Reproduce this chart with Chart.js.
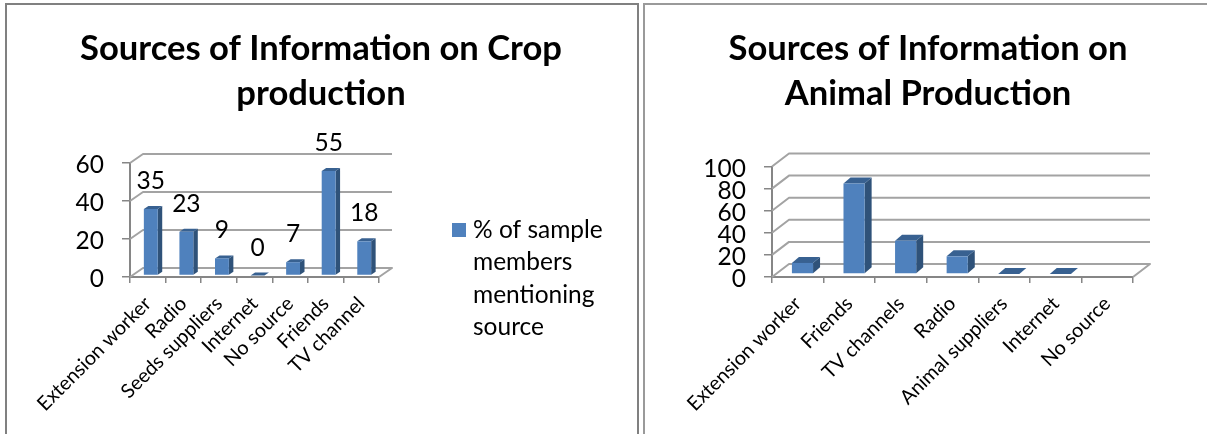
<!DOCTYPE html>
<html><head><meta charset="utf-8">
<style>
html,body{margin:0;padding:0;background:#fff;width:1207px;height:434px;overflow:hidden}
.frame{position:absolute;top:3px;height:440px;border:2px solid #808080;box-sizing:border-box}
canvas{position:absolute}
</style>
<script src="https://cdn.jsdelivr.net/npm/chart.js@4"></script>
</head><body>
<div class="frame" style="left:5px;width:634px"></div>
<div class="frame" style="left:643px;width:564px;border-color:#9a9a9a;border-right:none"></div>
<div style="position:absolute;left:7px;top:5px;width:628px;height:429px"><canvas id="crop"></canvas></div>
<div style="position:absolute;left:645px;top:5px;width:566px;height:429px"><canvas id="animal"></canvas></div>
<script>
const cropTitle = ["Sources of Information on Crop", "production"];
const cropCategories = ["Extension worker","Radio","Seeds suppliers","Internet","No source","Friends","TV channel"];
const cropValues = [35,23,9,0,7,55,18];
const cropTicks = [0,20,40,60];
const seriesLabel = "% of sample members mentioning source";

const animalTitle = ["Sources of Information on", "Animal Production"];
const animalCategories = ["Extension worker","Friends","TV channels","Radio","Animal suppliers","Internet","No source"];
const animalValues = [10,82,30,16,0,0,null];
const animalTicks = [0,20,40,60,80,100];

const FONT = "Lato";
const GRID = "#a3a3a3", AXIS = "#868686", FRONT = "#4f81bd", TOP = "#386191", SIDE = "#2f5279";

const depthPlugin = {
  id: "depth",
  install(chart, args, o) {
    const w = chart.config.options.plugins.depth.reserveRight;
    Chart.layouts.addBox(chart, {
      position: "right", weight: 100, fullSize: false, z: 0, width: w, height: 0, options: {},
      isHorizontal() { return false; },
      update(maxW, maxH) { this.width = w; this.height = maxH; },
      draw() {}
    });
  },
  beforeDatasetsDraw(chart, args, o) {
    const {ctx, chartArea: a, scales: {x, y}} = chart;
    ctx.save();
    ctx.strokeStyle = GRID; ctx.lineWidth = 2; ctx.lineJoin = "round";
    y.ticks.forEach((t, i) => {
      const py = y.getPixelForTick(i);
      ctx.beginPath();
      ctx.moveTo(a.left, py);
      ctx.lineTo(a.left + o.wallX, py - o.wallY);
      ctx.lineTo(a.right + o.wallX, py - o.wallY);
      if (i === 0) ctx.lineTo(a.right, py);
      ctx.stroke();
    });
    ctx.restore();
    ctx.save();
    ctx.translate(o.shiftX, o.shiftY);
    chart.getDatasetMeta(0).data.forEach((b, i) => {
      if (chart.data.datasets[0].data[i] === null) return;
      const l = b.x - b.width / 2, r = b.x + b.width / 2, t = b.y, bm = b.base;
      ctx.fillStyle = SIDE;
      ctx.beginPath();
      ctx.moveTo(r, t); ctx.lineTo(r + o.barX, t - o.barY);
      ctx.lineTo(r + o.barX, bm - o.barY); ctx.lineTo(r, bm); ctx.closePath(); ctx.fill();
      ctx.fillStyle = TOP;
      ctx.beginPath();
      ctx.moveTo(l, t); ctx.lineTo(l + o.barX, t - o.barY);
      ctx.lineTo(r + o.barX, t - o.barY); ctx.lineTo(r, t); ctx.closePath(); ctx.fill();
    });
  },
  afterDatasetsDraw(chart, args, o) {
    const {ctx} = chart;
    ctx.restore();
    if (!o.showValues) return;
    ctx.save();
    ctx.font = "24.5px " + FONT; ctx.fillStyle = "#000";
    ctx.textAlign = "center"; ctx.textBaseline = "alphabetic";
    chart.getDatasetMeta(0).data.forEach((b, i) => {
      ctx.fillText(String(chart.data.datasets[0].data[i]), b.x + o.shiftX, b.y + o.shiftY - 20);
    });
    ctx.restore();
  },
  afterDraw(chart, args, o) {
    if (!o.legend) return;
    const {ctx} = chart, ds = chart.data.datasets[0];
    ctx.save();
    ctx.font = "24.5px " + FONT; ctx.textBaseline = "alphabetic"; ctx.fillStyle = "#000";
    const lines = []; let cur = "";
    ds.label.split(" ").forEach(w => {
      const n = cur ? cur + " " + w : w;
      if (ctx.measureText(n).width > o.legend.wrap) { lines.push(cur); cur = w; } else cur = n;
    });
    lines.push(cur);
    lines.forEach((s, i) => ctx.fillText(s, o.legend.x + 21, o.legend.y + i * 32.3));
    ctx.fillStyle = FRONT;
    ctx.fillRect(o.legend.x, o.legend.y - 15, 14, 14);
    ctx.restore();
  }
};

function makeChart(id, title, cats, vals, ticks, opt) {
  return new Chart(document.getElementById(id), {
    type: "bar",
    plugins: [depthPlugin],
    data: {labels: cats, datasets: [{label: seriesLabel, data: vals, backgroundColor: FRONT,
      barPercentage: opt.barPct, categoryPercentage: 1, clip: false}]},
    options: {
      responsive: true, maintainAspectRatio: false, animation: false,
      layout: {padding: 0},
      plugins: {
        legend: {display: false}, tooltip: {enabled: false},
        title: {display: true, text: title, color: "#000", align: "center", fullSize: true,
          font: {family: FONT, size: opt.titleSize, weight: "bold", lineHeight: 45 / opt.titleSize},
          padding: {top: 21, bottom: opt.titleGap}},
        depth: opt.depth
      },
      scales: {
        x: {
          afterFit: s => { s.height = opt.xHeight; },
          grid: {drawOnChartArea: false, drawTicks: true, tickLength: 6, color: AXIS, lineWidth: 1.5},
          border: {display: true, color: AXIS, width: 2},
          ticks: {autoSkip: false, maxRotation: 45, minRotation: 45, color: "#000", padding: 9, labelOffset: 0,
            font: {family: FONT, size: 19.8}}
        },
        y: {
          min: 0, max: ticks[ticks.length - 1],
          afterFit: s => { s.width = opt.yWidth; },
          afterBuildTicks: s => { s.ticks = ticks.map(v => ({value: v})); },
          grid: {drawOnChartArea: false, drawTicks: true, tickLength: 8, color: AXIS, lineWidth: 1.5},
          border: {display: true, color: AXIS, width: 2},
          ticks: {autoSkip: false, color: "#000", padding: 18, labelOffset: 2.5, font: {family: FONT, size: 24.5}}
        }
      }
    }
  });
}

makeChart("crop", cropTitle, cropCategories, cropValues, cropTicks, {
  barPct: 0.39, xHeight: 157, yWidth: 123, titleSize: 34.6, titleGap: 47,
  depth: {reserveRight: 256, wallX: 13, wallY: 9, barX: 4.5, barY: 3, shiftX: 3, shiftY: -1.5, showValues: true,
    legend: {x: 445, y: 233, wrap: 155}}
});
makeChart("animal", animalTitle, animalCategories, animalValues, animalTicks, {
  barPct: 0.41, xHeight: 157, yWidth: 127, titleSize: 34.6, titleGap: 50.5,
  depth: {reserveRight: 78, wallX: 17, wallY: 13, barX: 7, barY: 6, shiftX: 4.7, shiftY: -3, showValues: false}
});
</script>
</body></html>
